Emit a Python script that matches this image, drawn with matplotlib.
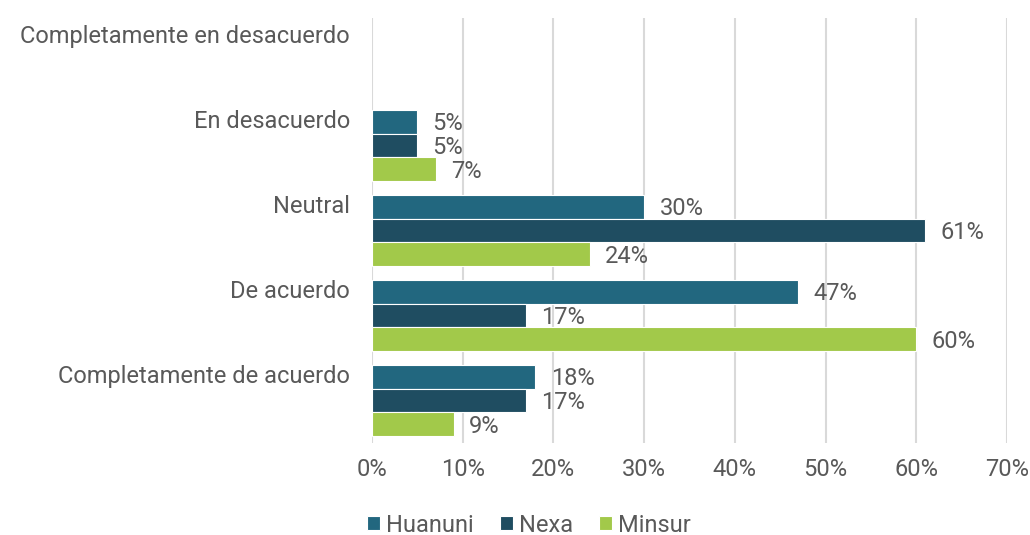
import matplotlib.pyplot as plt
import numpy as np

categories = ["Completamente en desacuerdo", "En desacuerdo", "Neutral",
              "De acuerdo", "Completamente de acuerdo"]
series = ["Huanuni", "Nexa", "Minsur"]
huanuni = [0, 5, 30, 47, 18]
nexa = [0, 5, 61, 17, 17]
minsur = [0, 7, 24, 60, 9]
colors = ["#22677f", "#1f4d61", "#a2c94a"]

plt.rcParams['font.family'] = ['Roboto', 'DejaVu Sans']
text_color = "#595959"

fig = plt.figure(figsize=(10.3, 5.35), dpi=100)
ax = fig.add_axes([372/1030, 1 - 443/535, (1007-372)/1030, (443-18)/535])

y = np.arange(len(categories))
h = 0.282
for i, (name, vals, c) in enumerate(zip(series, [huanuni, nexa, minsur], colors)):
    pos = y + (i - 1) * h
    vals = np.array(vals) / 100
    show = vals > 0
    bars = ax.barh(pos[show], vals[show], height=h, color=c, edgecolor="white",
                   linewidth=0.8, label=name, zorder=3)
    for b, v in zip(bars, vals[show]):
        ax.annotate(f"{v*100:.0f}%", (b.get_width(), b.get_y() + b.get_height() / 2),
                    xytext=(11, -1.5), textcoords="offset points", va="center",
                    ha="left", fontsize=17, color=text_color)

ax.set_xlim(0, 0.7)
ax.set_ylim(len(categories) - 0.5, -0.5)
ax.set_xticks(np.arange(0, 0.71, 0.1))
ax.set_xticklabels([f"{int(round(t*100))}%" for t in np.arange(0, 0.71, 0.1)])
ax.set_yticks(y - 0.31)
ax.set_yticklabels(categories)
ax.tick_params(axis="both", length=0, labelsize=17, colors=text_color)
ax.tick_params(axis="x", pad=11)
ax.tick_params(axis="y", pad=16)
ax.grid(axis="x", color="#d9d9d9", linewidth=1.5, zorder=0)
for s in ax.spines.values():
    s.set_visible(False)

leg = ax.legend(loc="center", bbox_to_anchor=(0.247, -0.193), ncol=3, frameon=False,
                fontsize=17, handlelength=0.55, handleheight=0.55, handletextpad=0.25,
                columnspacing=1.1, bbox_transform=ax.transAxes)
for t in leg.get_texts():
    t.set_color(text_color)

fig.savefig("out.png", dpi=100)
